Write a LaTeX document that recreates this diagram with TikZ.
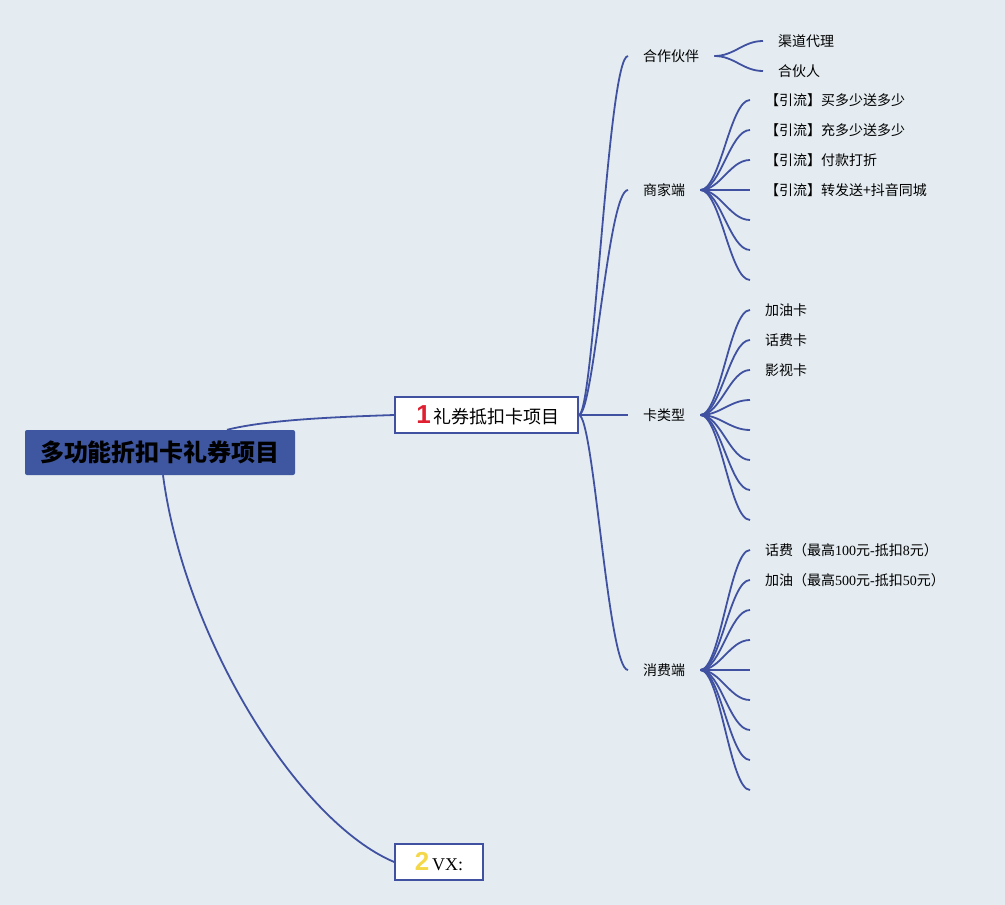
\documentclass[tikz,border=0pt]{standalone}
\usepackage{fontspec}
\setmainfont{Liberation Serif}
\newfontfamily\cjk{Noto Sans CJK SC}
\newfontfamily\markfont{Liberation Sans}
\definecolor{bgblue}{HTML}{E4ECF1}
\definecolor{linkblue}{HTML}{3F51A0}
\definecolor{rootblue}{HTML}{3F57A0}
\definecolor{markred}{HTML}{E02030}
\definecolor{markyellow}{HTML}{F5D84A}
\newcommand{\marker}[2]{{\markfont\bfseries\fontsize{26pt}{26pt}\selectfont\color{#1}#2}}

\begin{document}
\begin{tikzpicture}[x=1pt, y=-1pt,
    link/.style={draw=linkblue, line width=1.8pt},
    rootbox/.style={fill=rootblue, rounded corners=2pt, minimum width=270pt, minimum height=45pt,
        font=\cjk\bfseries\fontsize{24pt}{26pt}\selectfont},
    topic/.style={draw=linkblue, fill=white, line width=1.6pt, minimum height=36pt, inner ysep=1pt,
        font=\cjk\fontsize{18pt}{20pt}\selectfont},
    sub/.style={anchor=west, inner xsep=15pt, font=\cjk\fontsize{14pt}{16pt}\selectfont},
    leaf/.style={anchor=west, inner xsep=15pt, font=\cjk\fontsize{14pt}{16pt}\selectfont}]
    \fill[bgblue] (0,0) rectangle (1005,905);
    \useasboundingbox (0,0) rectangle (1005,905);

    % main topics
    \node[rootbox] (root) at (160,452.5) {多功能折扣卡礼券项目};
    \node[topic, minimum width=183pt] (gift) at (486.5,415) {\hspace{3pt}\marker{markred}{1}\hspace{3pt}礼券抵扣卡项目};
    \node[topic, minimum width=88pt] (vx) at (439,862) {\marker{markyellow}{2}\hspace{3pt}{\rmfamily VX:}};
    \draw[link] ([xshift=67pt]root.north) .. controls +(40,-10) and +(-60,2) .. (gift.west);
    \draw[link] ([xshift=3pt]root.south) .. controls +(22,165) and +(-95,-40) .. (vx.west);

    % second level
    \node[sub] (partner) at (628,56) {合作伙伴};
    \node[sub] (shop) at (628,190) {商家端};
    \node[sub] (cardtype) at (628,415) {卡类型};
    \node[sub] (buyer) at (628,670) {消费端};
    \foreach \n in {partner,shop,cardtype,buyer} {
        \draw[link] (gift.east) .. controls +(15,0) and +(-20,0) .. (\n.west);
    };

    % leaves
    \node[leaf] (partner-1) at (763,41) {渠道代理};
    \node[leaf] (partner-2) at (763,71) {合伙人};
    \foreach \i in {1,2} {
        \draw[link] (partner.east) .. controls +(20,0) and +(-20,0) .. (partner-\i.west);
    };
    \foreach \y/\txt [count=\i] in {100/{【引流】买多少送多少}, 130/{【引流】充多少送多少},
            160/{【引流】付款打折}, 190/{【引流】转发送+抖音同城}, 220/{}, 250/{}, 280/{}} {
        \node[leaf] (shop-\i) at (750,\y) {\txt};
        \draw[link] (shop.east) .. controls +(20,0) and +(-20,0) .. (shop-\i.west);
    };
    \foreach \y/\txt [count=\i] in {310/{加油卡}, 340/{话费卡}, 370/{影视卡},
            400/{}, 430/{}, 460/{}, 490/{}, 520/{}} {
        \node[leaf] (cardtype-\i) at (750,\y) {\txt};
        \draw[link] (cardtype.east) .. controls +(20,0) and +(-20,0) .. (cardtype-\i.west);
    };
    \foreach \y/\txt [count=\i] in {550/{话费（最高{\rmfamily 100}元{\rmfamily -}抵扣{\rmfamily 8}元）},
            580/{加油（最高{\rmfamily 500}元{\rmfamily -}抵扣{\rmfamily 50}元）},
            610/{}, 640/{}, 670/{}, 700/{}, 730/{}, 760/{}, 790/{}} {
        \node[leaf] (buyer-\i) at (750,\y) {\txt};
        \draw[link] (buyer.east) .. controls +(20,0) and +(-20,0) .. (buyer-\i.west);
    };
\end{tikzpicture}
\end{document}
